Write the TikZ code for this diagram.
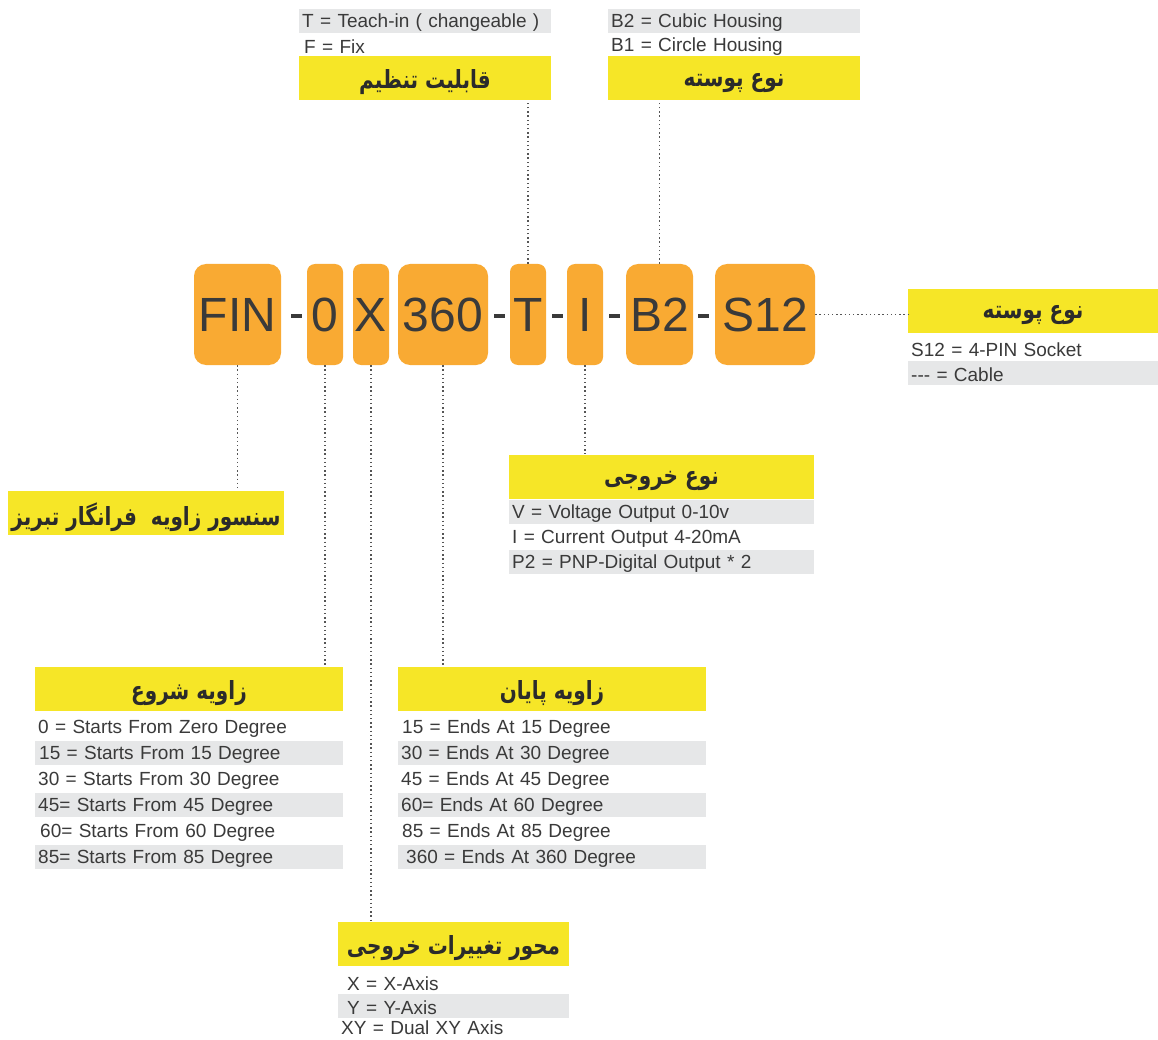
\documentclass[tikz,border=0pt]{standalone}
\usepackage{fontspec}
\setmainfont{Liberation Sans}
\newfontfamily\fa[Script=Arabic,FakeStretch=0.8]{DejaVu Sans}
\TeXXeTstate=1
\definecolor{hdrY}{HTML}{F6E627}
\definecolor{codeO}{HTML}{F9AA33}
\definecolor{rowgray}{HTML}{E6E7E8}
\definecolor{txt}{HTML}{3A3A3A}
\definecolor{dk}{HTML}{2B2B2B}
\definecolor{dotc}{HTML}{555555}
\newcommand{\rowfont}{\fontsize{19}{22}\selectfont}
\newcommand{\hdrfont}{\fa\bfseries\fontsize{25}{28}\selectfont}
\newcommand{\hd}[1]{\raisebox{-4pt}[\height][\depth]{\beginR #1\endR}}
\newcommand{\rt}[1]{\raisebox{-2pt}[\height][\depth]{#1}}
\begin{document}
\begin{tikzpicture}[x=1pt,y=-1pt,
  hdr/.style={fill=hdrY, minimum height=44pt, inner sep=0pt, font=\hdrfont, text=dk},
  codebox/.style={fill=codeO, rounded corners=12pt, minimum height=101pt, inner sep=0pt,
     font=\fontsize{48}{48}\selectfont, text=txt},
  smallbox/.style={codebox, rounded corners=8pt, minimum width=36pt},
  sep/.style={fill=txt, inner sep=0pt, minimum width=11pt, minimum height=4pt},
  rowa/.style={anchor=west, inner xsep=3pt, inner ysep=0pt, minimum height=24pt,
     text width=#1, align=left, font=\rowfont, text=txt},
  rowg/.style={rowa=#1, fill=rowgray},
  dot/.style={draw=dotc, line width=1.4pt, dash pattern=on 1.4pt off 2.8pt}
]
\fill[white] (0,0) rectangle (1158,1040);
\useasboundingbox (0,0) rectangle (1158,1040);

% ---- code row ----
\node[codebox, minimum width=87pt] (fin) at (237.5,314.5) {FIN};
\node[sep] (d1) at (296,316) {};
\node[smallbox] (zero) at (325,314.5) {0};
\node[smallbox] (xx) at (371,314.5) {X};
\node[codebox, minimum width=90pt] (n360) at (443,314.5) {360};
\node[sep] (d2) at (499,316) {};
\node[smallbox] (tt) at (528,314.5) {T};
\node[sep] (d3) at (557,316) {};
\node[smallbox] (ii) at (585,314.5) {I};
\node[sep] (d4) at (614.5,316) {};
\node[codebox, minimum width=67pt] (b2) at (659.5,314.5) {B2};
\node[sep] (d5) at (703.5,316) {};
\node[codebox, minimum width=100pt] (s12) at (765,314.5) {S12};

% ---- top left: adjustability ----
\node[rowg=246pt] (tl1) at (299,21) {\rt{T = Teach-in ( changeable )}};
\node[rowa=246pt] (tl2) at (299,45) {\rt{\hspace{2pt}F = Fix}};
\node[hdr, minimum width=252pt] (tune) at (425,78.5) {\hd{قابلیت تنظیم}};

% ---- top right: housing ----
\node[rowg=246pt] (tr1) at (608,21) {\rt{B2 = Cubic Housing}};
\node[rowa=246pt] (tr2) at (608,45) {\rt{B1 = Circle Housing}};
\node[hdr, minimum width=252pt] (hous) at (734,78.5) {\hd{نوع پوسته}};

% ---- right: connection ----
\node[hdr, minimum width=250pt] (sock) at (1033,311) {\hd{نوع پوسته}};
\node[rowa=244pt] (r1) at (908,348) {\rt{S12 = 4-PIN Socket}};
\node[rowg=244pt] (r2) at (908,373) {\rt{-{}-{}- = Cable}};

% ---- output type ----
\node[hdr, minimum width=305pt] (out) at (661.5,476.5) {\hd{نوع خروجی}};
\node[rowg=299pt] (o1) at (509,512) {\rt{V = Voltage Output 0-10v}};
\node[rowa=299pt] (o2) at (509,537) {\rt{I = Current Output 4-20mA}};
\node[rowg=299pt] (o3) at (509,562) {\rt{P2 = PNP-Digital Output * 2}};

% ---- brand ----
\node[hdr, minimum width=276pt] (brand) at (146,513) {\hd{سنسور زاویه \ فرانگار تبریز}};

% ---- start angle ----
\node[hdr, minimum width=308pt] (start) at (189,689) {\hd{زاویه شروع}};
\node[rowa=302pt] (s1) at (35,727) {\rt{0 = Starts From Zero Degree}};
\node[rowg=302pt] (s2) at (35,753) {\rt{\hspace{1pt}15 = Starts From 15 Degree}};
\node[rowa=302pt] (s3) at (35,779) {\rt{30 = Starts From 30 Degree}};
\node[rowg=302pt] (s4) at (35,805) {\rt{45= Starts From 45 Degree}};
\node[rowa=302pt] (s5) at (35,831) {\rt{\hspace{2pt}60= Starts From 60 Degree}};
\node[rowg=302pt] (s6) at (35,857) {\rt{85= Starts From 85 Degree}};

% ---- end angle ----
\node[hdr, minimum width=308pt] (endb) at (552,689) {\hd{زاویه پایان}};
\node[rowa=302pt] (e1) at (398,727) {\rt{\hspace{1pt}15 = Ends At 15 Degree}};
\node[rowg=302pt] (e2) at (398,753) {\rt{30 = Ends At 30 Degree}};
\node[rowa=302pt] (e3) at (398,779) {\rt{45 = Ends At 45 Degree}};
\node[rowg=302pt] (e4) at (398,805) {\rt{60= Ends At 60 Degree}};
\node[rowa=302pt] (e5) at (398,831) {\rt{\hspace{1pt}85 = Ends At 85 Degree}};
\node[rowg=302pt] (e6) at (398,857) {\rt{\hspace{5pt}360 = Ends At 360 Degree}};

% ---- axis ----
\node[hdr, minimum width=231pt] (axis) at (453.5,944) {\hd{محور تغییرات خروجی}};
\node[rowa=225pt] (a1) at (338,982) {\rt{\hspace{6pt}X = X-Axis}};
\node[rowg=225pt] (a2) at (338,1006) {\rt{\hspace{6pt}Y = Y-Axis}};
\node[rowa=225pt] (a3) at (338,1028) {XY = Dual XY Axis};

% ---- connectors ----
\draw[dot] (tt.north) -- (tt.north |- tune.south);
\draw[dot] (b2.north) -- (b2.north |- hous.south);
\draw[dot] (s12.east) -- (s12.east -| sock.west);
\draw[dot] (fin.south) -- (fin.south |- brand.north);
\draw[dot] (zero.south) -- (zero.south |- start.north);
\draw[dot] (xx.south) -- (xx.south |- axis.north);
\draw[dot] (n360.south) -- (n360.south |- endb.north);
\draw[dot] (ii.south) -- (ii.south |- out.north);
\end{tikzpicture}
\end{document}
